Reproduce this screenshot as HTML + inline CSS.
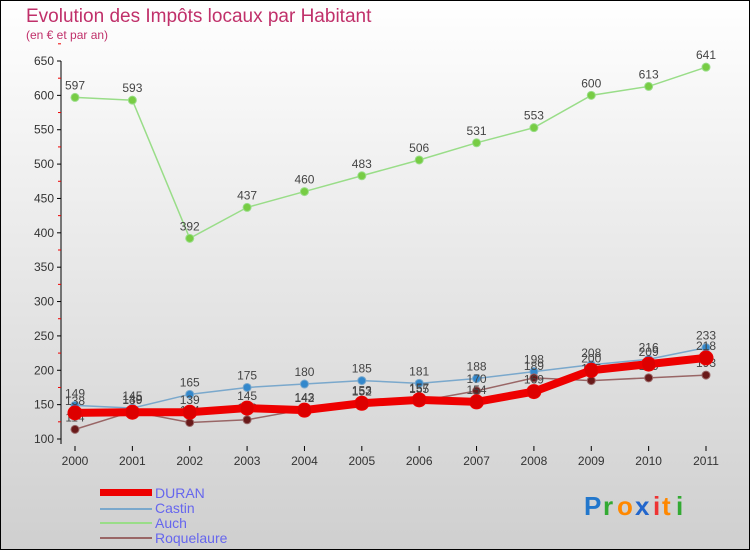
<!DOCTYPE html>
<html><head><meta charset="utf-8"><style>
body{margin:0;}
#wrap{width:750px;height:550px;position:relative;overflow:hidden;}
svg text{font-family:"Liberation Sans",sans-serif;}
</style></head><body>
<div id="wrap">
<svg id="chart" width="750" height="550" xmlns="http://www.w3.org/2000/svg">
<defs><linearGradient id="bg" x1="0" y1="0" x2="0" y2="1"><stop offset="0" stop-color="#ffffff"/><stop offset="1" stop-color="#cfcfcf"/></linearGradient></defs>
<rect x="0" y="0" width="750" height="550" fill="url(#bg)" stroke="#000" stroke-width="2"/>
<text x="26" y="22" font-size="19" fill="#c0306a">Evolution des Impôts locaux par Habitant</text>
<text x="26" y="39" font-size="12" fill="#c0306a">(en € et par an)</text>
<g id="axes"></g>
<g id="series"></g>
<g>
<rect x="100" y="489" width="52" height="7" fill="#ee0000"/>
<text x="155" y="498" font-size="14" fill="#6666ee">DURAN</text>
<rect x="100" y="508" width="52" height="2" fill="#7aa8cc"/>
<text x="155" y="513" font-size="14" fill="#6666ee">Castin</text>
<rect x="100" y="522" width="52" height="2" fill="#99dd88"/>
<text x="155" y="528" font-size="14" fill="#6666ee">Auch</text>
<rect x="100" y="537" width="52" height="2" fill="#996666"/>
<text x="155" y="543" font-size="14" fill="#6666ee">Roquelaure</text>
</g>
<g font-size="26" font-weight="bold">
<text x="584" y="515" fill="#2277cc">P</text><text x="603" y="515" fill="#33aa33">r</text><text x="617" y="515" fill="#ff8800">o</text><text x="635" y="515" fill="#2266cc">x</text><text x="653" y="515" fill="#ee3333">i</text><text x="662" y="515" fill="#ff8800">t</text><text x="676" y="515" fill="#33aa33">i</text>
</g>
</svg>
</div>
<script>
const years=["2000","2001","2002","2003","2004","2005","2006","2007","2008","2009","2010","2011"];
const yTicks=[100,150,200,250,300,350,400,450,500,550,600,650];
const auch=[597,593,392,437,460,483,506,531,553,600,613,641];
const castin=[149,145,165,175,180,185,181,188,198,208,216,233];
const roquelaure=[114,140,124,128,143,153,155,170,189,185,189,193];
const duran=[138,139,139,145,142,152,157,154,169,200,209,218];
const NS="http://www.w3.org/2000/svg";
function xs(i){return 75+i*(706-75)/(years.length-1);}
function ys(v){return 439-(v-100)*(439-61)/550;}
function mk(tag,attrs,parent){const e=document.createElementNS(NS,tag);for(const k in attrs)e.setAttribute(k,attrs[k]);parent.appendChild(e);return e;}
const ax=document.getElementById('axes');
const yl=mk('line',{x1:61,y1:61,x2:61,y2:444,stroke:'#000'},ax);


yTicks.forEach(function(t){
  const y=ys(t);
  mk('line',{x1:57,y1:y,x2:61,y2:y,stroke:'#000'},ax);
  mk('line',{x1:58,y1:ys(t+25),x2:61,y2:ys(t+25),stroke:'#e00'},ax);
  const tx=mk('text',{x:54,y:y+4,'font-size':12,'text-anchor':'end',fill:'#333'},ax);
  tx.textContent=t;
  
  
});
years.forEach(function(yr,i){
  const x=xs(i);
  mk('line',{x1:x,y1:446,x2:x,y2:451,stroke:'#000'},ax);
  const tx=mk('text',{x:x,y:465,'font-size':12,'text-anchor':'middle',fill:'#333'},ax);
  tx.textContent=yr;
  
  
});
const sg=document.getElementById('series');
function drawSeries(vals,name,color,dot,width,r){
  const g=mk('g',{},sg);
  
  
  const p=mk('polyline',{points:vals.map(function(v,i){return xs(i)+','+ys(v);}).join(' '),fill:'none',stroke:color,'stroke-width':width},g);
  
  
  vals.forEach(function(v,i){
    const c=mk('circle',{cx:xs(i),cy:ys(v),r:r,fill:dot,stroke:color,'stroke-width':1},g);
    
    
    const t=mk('text',{x:xs(i),y:ys(v)-8,'font-size':12,'text-anchor':'middle',fill:'#444'},g);
    t.textContent=v;
    
    
  });
}
drawSeries(auch,'auch','#99dd88','#77cc44',1.5,4);
drawSeries(castin,'castin','#7aa8cc','#3388cc',1.5,4);
drawSeries(roquelaure,'roquelaure','#996666','#6a1a1a',1.5,4);
drawSeries(duran,'duran','#ee0000','#dd0000',8,7);
</script>
</body></html>
